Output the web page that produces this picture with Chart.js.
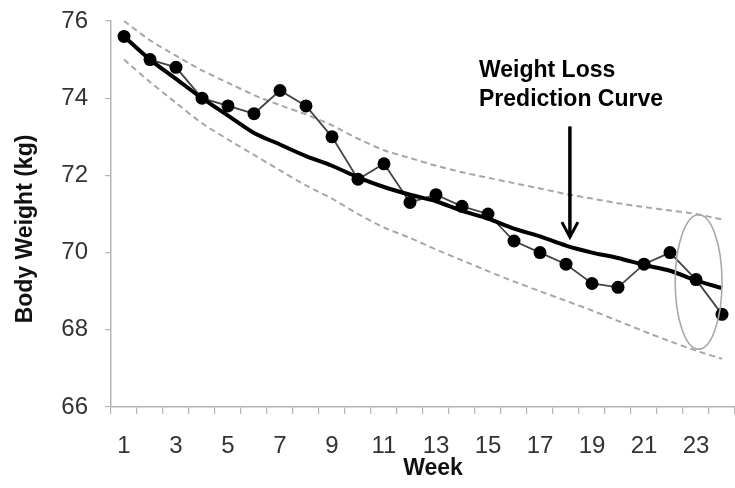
<!DOCTYPE html>
<html>
<head>
<meta charset="utf-8">
<script src="https://cdn.jsdelivr.net/npm/chart.js@4/dist/chart.umd.min.js"></script>
<style>
  html, body { margin: 0; padding: 0; background: #fff; }
  #wrap { width: 735px; height: 488px; position: relative; }
</style>
</head>
<body>
<div id="wrap"><canvas id="c" width="735" height="488"></canvas></div>
<script>
// ---- data ----
const weeks = ['1','2','3','4','5','6','7','8','9','10','11','12','13','14','15','16','17','18','19','20','21','22','23','24'];
const actualWeight = [75.6, 75.0, 74.8, 74.0, 73.8, 73.6, 74.2, 73.8, 73.0, 71.9, 72.3, 71.3, 71.5, 71.2, 71.0, 70.3, 70.0, 69.7, 69.2, 69.1, 69.7, 70.0, 69.3, 68.4];
const predictionCurve = [75.6, 75.0, 74.5, 74.0, 73.55, 73.1, 72.8, 72.5, 72.25, 71.95, 71.7, 71.5, 71.33, 71.08, 70.88, 70.62, 70.42, 70.18, 70.0, 69.86, 69.68, 69.53, 69.28, 69.08];
const upperBound = [76.0, 75.5, 75.1, 74.72, 74.4, 74.08, 73.82, 73.58, 73.3, 72.95, 72.65, 72.45, 72.25, 72.08, 71.94, 71.8, 71.66, 71.52, 71.4, 71.28, 71.18, 71.09, 71.0, 70.86];
const lowerBound = [75.0, 74.42, 73.88, 73.35, 72.93, 72.53, 72.13, 71.74, 71.4, 71.0, 70.65, 70.38, 70.08, 69.8, 69.52, 69.25, 69.0, 68.75, 68.5, 68.23, 67.96, 67.7, 67.46, 67.25];
const yTicks = [66, 68, 70, 72, 74, 76];
const annotationText = ['Weight Loss', 'Prediction Curve'];

const FONT = '"Liberation Sans", Arial, sans-serif';

const overlay = {
  id: 'overlay',
  afterDatasetsDraw(chart) {
    const ctx = chart.ctx, x = chart.scales.x, y = chart.scales.y;
    ctx.save();
    // ellipse around last weeks
    const cx = x.getPixelForValue(22.1);
    const cy = y.getPixelForValue(69.24);
    const rx = (x.getPixelForValue(23) - x.getPixelForValue(22)) * 0.9;
    const ry = y.getPixelForValue(67.5) - cy;
    ctx.strokeStyle = '#a8a8a8';
    ctx.lineWidth = 1.6;
    ctx.beginPath();
    ctx.ellipse(cx, cy, rx, ry, 0, 0, Math.PI * 2);
    ctx.stroke();
    // arrow
    const ax = x.getPixelForValue(17.15);
    const ay1 = y.getPixelForValue(73.27);
    const ay2 = y.getPixelForValue(70.4);
    ctx.strokeStyle = '#000';
    ctx.lineWidth = 3.5;
    ctx.lineCap = 'butt';
    ctx.beginPath();
    ctx.moveTo(ax, ay1);
    ctx.lineTo(ax, ay2 - 2);
    ctx.stroke();
    ctx.lineWidth = 3;
    ctx.beginPath();
    ctx.moveTo(ax - 8, ay2 - 15);
    ctx.lineTo(ax, ay2);
    ctx.lineTo(ax + 8, ay2 - 15);
    ctx.stroke();
    // annotation text
    ctx.fillStyle = '#000';
    ctx.font = 'bold 23px ' + FONT;
    ctx.textAlign = 'left';
    ctx.textBaseline = 'alphabetic';
    ctx.fillText(annotationText[0], 479, 77);
    ctx.fillText(annotationText[1], 479, 106);
    // axis titles
    ctx.fillStyle = '#111';
    ctx.font = 'bold 23px ' + FONT;
    ctx.textAlign = 'center';
    ctx.textBaseline = 'middle';
    ctx.fillText('Week', 433, 469);
    ctx.save();
    ctx.translate(26, 229);
    ctx.rotate(-Math.PI / 2);
    ctx.fillText('Body Weight (kg)', 0, 0);
    ctx.restore();
    ctx.restore();
  }
};

new Chart(document.getElementById('c'), {
  type: 'line',
  data: {
    labels: weeks,
    datasets: [
      {
        label: 'Prediction',
        data: predictionCurve,
        borderColor: '#000',
        borderWidth: 4,
        pointRadius: 0,
        tension: 0.3,
        fill: false
      },
      {
        label: 'Actual',
        data: actualWeight,
        borderColor: '#444',
        borderWidth: 1.8,
        pointRadius: 6.5,
        pointBackgroundColor: '#000',
        pointBorderColor: '#000',
        pointBorderWidth: 0,
        tension: 0,
        fill: false
      },
      {
        label: 'Upper',
        data: upperBound,
        borderColor: '#a6a6a6',
        borderWidth: 2,
        borderDash: [6, 4],
        pointRadius: 0,
        tension: 0.2,
        fill: false
      },
      {
        label: 'Lower',
        data: lowerBound,
        borderColor: '#a6a6a6',
        borderWidth: 2,
        borderDash: [6, 4],
        pointRadius: 0,
        tension: 0.2,
        fill: false
      }
    ]
  },
  options: {
    responsive: false,
    animation: false,
    devicePixelRatio: 1,
    layout: { autoPadding: false, padding: { top: 21, right: 0, left: 0, bottom: 0 } },
    plugins: { legend: { display: false }, tooltip: { enabled: false }, title: { display: false } },
    clip: false,
    scales: {
      x: {
        type: 'category',
        offset: true,
        grid: { display: true, drawOnChartArea: false, drawTicks: true, tickLength: 7, offset: true, color: '#b5b5b5', lineWidth: 1.2 },
        border: { display: true, color: '#b5b5b5', width: 1.5 },
        ticks: {
          autoSkip: false,
          maxRotation: 0,
          padding: 18,
          color: '#333',
          font: { family: FONT, size: 24 },
          callback: function(v, i) { return (i % 2 === 0) ? weeks[i] : ''; }
        },
        afterFit: function(s) { s.height = 81; s.paddingLeft = 0; s.paddingRight = 0; }
      },
      y: {
        min: 66,
        max: 76,
        afterBuildTicks: function(s) { s.ticks = yTicks.map(v => ({ value: v })); },
        grid: { display: true, drawOnChartArea: false, drawTicks: true, tickLength: 6, color: '#b5b5b5', lineWidth: 1.2 },
        border: { display: true, color: '#b5b5b5', width: 1.5 },
        ticks: {
          padding: 17,
          color: '#333',
          font: { family: FONT, size: 24 }
        },
        afterFit: function(s) { s.width = 111; s.paddingTop = 0; s.paddingBottom = 0; }
      }
    }
  },
  plugins: [overlay]
});
</script>
</body>
</html>
